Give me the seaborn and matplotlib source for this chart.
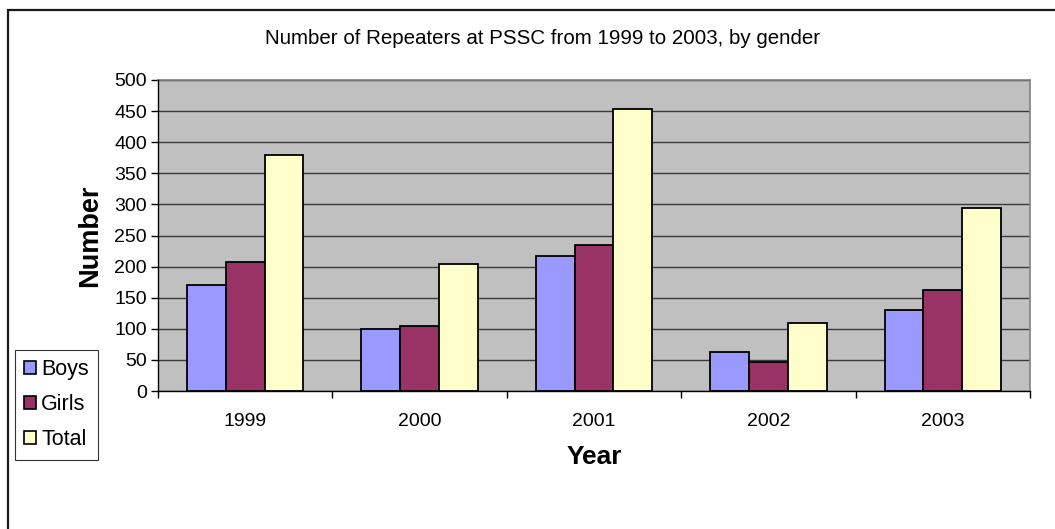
import matplotlib
matplotlib.use("Agg")
import matplotlib.pyplot as plt
from matplotlib.patches import Patch, Rectangle
import numpy as np
import pandas as pd
import seaborn as sns

years = ["1999", "2000", "2001", "2002", "2003"]
boys = [170, 99, 217, 63, 131]
girls = [207, 104, 235, 46, 163]
total = [379, 204, 454, 110, 295]
series_names = ["Boys", "Girls", "Total"]
series_colors = ["#9999FF", "#993366", "#FFFFCC"]
y_ticks = list(range(0, 501, 50))

df = pd.DataFrame({
    "Year": years * 3,
    "Number": boys + girls + total,
    "Series": [s for s in series_names for _ in years],
})

sns.set_theme(style="white")
plt.rcParams["font.family"] = ["Liberation Sans", "DejaVu Sans"]
plt.rcParams["text.color"] = "black"
plt.rcParams["axes.labelcolor"] = "black"
plt.rcParams["xtick.color"] = "black"
plt.rcParams["ytick.color"] = "black"

fig = plt.figure(figsize=(10.55, 5.29), dpi=100)
ax = fig.add_axes([158 / 1055, 1 - 391 / 529, (1030 - 158) / 1055, (391 - 80) / 529])

# outer chart-area frame
fig.patches.append(Rectangle((8 / 1055, -0.1), 1.2, 1 - 10 / 529 + 0.1,
                             transform=fig.transFigure, fill=False,
                             edgecolor="#1a1a1a", linewidth=1.6, zorder=0))

sns.barplot(data=df, x="Year", y="Number", hue="Series", order=years,
            hue_order=series_names, palette=series_colors, width=0.667,
            edgecolor="black", linewidth=1.3, saturation=1, ax=ax,
            legend=False, zorder=3)

ax.set_facecolor("#C0C0C0")
ax.set_ylim(0, 500)
ax.set_xlim(-0.5, len(years) - 0.5)
ax.set_yticks(y_ticks)
ax.yaxis.grid(True, color="#3a3a3a", linewidth=1.0, zorder=1)
ax.set_axisbelow(True)

for side in ["top", "right"]:
    ax.spines[side].set_color("#808080")
    ax.spines[side].set_linewidth(1.2)
for side in ["left", "bottom"]:
    ax.spines[side].set_color("black")
    ax.spines[side].set_linewidth(1.0)
    ax.spines[side].set_zorder(4)

ax.tick_params(axis="y", direction="out", length=5, width=1, color="black",
               left=True, labelsize=14, pad=3)
ax.set_xticks(range(len(years)))
ax.set_xticklabels(years)
ax.set_xticks(np.arange(-0.5, len(years), 1.0), minor=True)
ax.tick_params(axis="x", which="major", length=0, labelsize=14, pad=16)
ax.tick_params(axis="x", which="minor", direction="out", length=5, width=1,
               color="black", bottom=True)

ax.set_xlabel("Year", fontsize=19, fontweight="bold", labelpad=11)
ax.set_ylabel("Number", fontsize=19.5, fontweight="bold", labelpad=8)

fig.text(543 / 1055, 1 - 38 / 529,
         "Number of Repeaters at PSSC from 1999 to 2003, by gender",
         ha="center", va="center", fontsize=14.8)

handles = [Patch(facecolor=c, edgecolor="black", linewidth=1.2)
           for c in series_colors]
leg = fig.legend(handles, series_names, loc="upper left",
                 bbox_to_anchor=(15 / 1055, 1 - 350 / 529),
                 fontsize=15.5, frameon=True, fancybox=False,
                 handlelength=0.55, handleheight=0.55, handletextpad=0.25,
                 labelspacing=0.66, borderpad=0.42, borderaxespad=0)
leg.get_frame().set_edgecolor("black")
leg.get_frame().set_linewidth(0.8)

fig.savefig("out.png", dpi=100, facecolor="white")
